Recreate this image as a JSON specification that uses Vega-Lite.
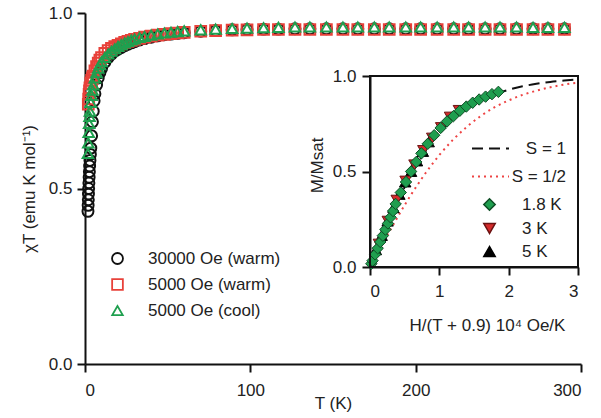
{
  "$schema": "https://vega.github.io/schema/vega-lite/v6.json",
  "width": 496,
  "height": 351,
  "autosize": {"type": "none"},
  "padding": {"left": 85, "top": 13, "right": 20, "bottom": 54},
  "background": "white",
  "config": {
    "view": {"stroke": null},
    "font": "Liberation Sans",
    "axis": {"grid": false, "domainColor": "#111111", "domainWidth": 2, "tickColor": "#111111", "tickWidth": 2, "tickSize": 8, "labelFontSize": 17, "labelColor": "#222222", "titleFontSize": 17, "titleFontWeight": "normal", "titleColor": "#222222", "labelFont": "Liberation Sans", "titleFont": "Liberation Sans"},
    "legend": {"labelFontSize": 17, "labelColor": "#222222", "labelFont": "Liberation Sans", "padding": 0}
  },
  "datasets": {
    "main": [
      {"series": "30000 Oe (warm)", "T": 1.8, "chiT": 0.435},
      {"series": "30000 Oe (warm)", "T": 1.9, "chiT": 0.452},
      {"series": "30000 Oe (warm)", "T": 2.0, "chiT": 0.468},
      {"series": "30000 Oe (warm)", "T": 2.1, "chiT": 0.484},
      {"series": "30000 Oe (warm)", "T": 2.2, "chiT": 0.5},
      {"series": "30000 Oe (warm)", "T": 2.35, "chiT": 0.516},
      {"series": "30000 Oe (warm)", "T": 2.5, "chiT": 0.532},
      {"series": "30000 Oe (warm)", "T": 2.65, "chiT": 0.548},
      {"series": "30000 Oe (warm)", "T": 2.8, "chiT": 0.564},
      {"series": "30000 Oe (warm)", "T": 3.0, "chiT": 0.58},
      {"series": "30000 Oe (warm)", "T": 3.25, "chiT": 0.597},
      {"series": "30000 Oe (warm)", "T": 3.5, "chiT": 0.615},
      {"series": "30000 Oe (warm)", "T": 4, "chiT": 0.65},
      {"series": "30000 Oe (warm)", "T": 4.5, "chiT": 0.69},
      {"series": "30000 Oe (warm)", "T": 5, "chiT": 0.72},
      {"series": "30000 Oe (warm)", "T": 5.5, "chiT": 0.75},
      {"series": "30000 Oe (warm)", "T": 6, "chiT": 0.77},
      {"series": "30000 Oe (warm)", "T": 7, "chiT": 0.795},
      {"series": "30000 Oe (warm)", "T": 8, "chiT": 0.815},
      {"series": "30000 Oe (warm)", "T": 9, "chiT": 0.83},
      {"series": "30000 Oe (warm)", "T": 10, "chiT": 0.842},
      {"series": "30000 Oe (warm)", "T": 12, "chiT": 0.86},
      {"series": "30000 Oe (warm)", "T": 14, "chiT": 0.873},
      {"series": "30000 Oe (warm)", "T": 16, "chiT": 0.883},
      {"series": "30000 Oe (warm)", "T": 18, "chiT": 0.891},
      {"series": "30000 Oe (warm)", "T": 20, "chiT": 0.897},
      {"series": "30000 Oe (warm)", "T": 22, "chiT": 0.902},
      {"series": "30000 Oe (warm)", "T": 24, "chiT": 0.907},
      {"series": "30000 Oe (warm)", "T": 26, "chiT": 0.911},
      {"series": "30000 Oe (warm)", "T": 28, "chiT": 0.915},
      {"series": "30000 Oe (warm)", "T": 30, "chiT": 0.918},
      {"series": "30000 Oe (warm)", "T": 33, "chiT": 0.923},
      {"series": "30000 Oe (warm)", "T": 36, "chiT": 0.927},
      {"series": "30000 Oe (warm)", "T": 40, "chiT": 0.931},
      {"series": "30000 Oe (warm)", "T": 44, "chiT": 0.935},
      {"series": "30000 Oe (warm)", "T": 48, "chiT": 0.938},
      {"series": "30000 Oe (warm)", "T": 52, "chiT": 0.94},
      {"series": "30000 Oe (warm)", "T": 56, "chiT": 0.942},
      {"series": "30000 Oe (warm)", "T": 60, "chiT": 0.944},
      {"series": "30000 Oe (warm)", "T": 70, "chiT": 0.948},
      {"series": "30000 Oe (warm)", "T": 79, "chiT": 0.95},
      {"series": "30000 Oe (warm)", "T": 89, "chiT": 0.952},
      {"series": "30000 Oe (warm)", "T": 98, "chiT": 0.953},
      {"series": "30000 Oe (warm)", "T": 108, "chiT": 0.954},
      {"series": "30000 Oe (warm)", "T": 117, "chiT": 0.954},
      {"series": "30000 Oe (warm)", "T": 127, "chiT": 0.955},
      {"series": "30000 Oe (warm)", "T": 136, "chiT": 0.955},
      {"series": "30000 Oe (warm)", "T": 146, "chiT": 0.955},
      {"series": "30000 Oe (warm)", "T": 156, "chiT": 0.955},
      {"series": "30000 Oe (warm)", "T": 165, "chiT": 0.955},
      {"series": "30000 Oe (warm)", "T": 175, "chiT": 0.955},
      {"series": "30000 Oe (warm)", "T": 184, "chiT": 0.955},
      {"series": "30000 Oe (warm)", "T": 194, "chiT": 0.955},
      {"series": "30000 Oe (warm)", "T": 203, "chiT": 0.955},
      {"series": "30000 Oe (warm)", "T": 213, "chiT": 0.955},
      {"series": "30000 Oe (warm)", "T": 223, "chiT": 0.955},
      {"series": "30000 Oe (warm)", "T": 232, "chiT": 0.955},
      {"series": "30000 Oe (warm)", "T": 242, "chiT": 0.955},
      {"series": "30000 Oe (warm)", "T": 251, "chiT": 0.955},
      {"series": "30000 Oe (warm)", "T": 261, "chiT": 0.955},
      {"series": "30000 Oe (warm)", "T": 271, "chiT": 0.955},
      {"series": "30000 Oe (warm)", "T": 280, "chiT": 0.955},
      {"series": "30000 Oe (warm)", "T": 290, "chiT": 0.955},
      {"series": "5000 Oe (warm)", "T": 2, "chiT": 0.74},
      {"series": "5000 Oe (warm)", "T": 2.25, "chiT": 0.755},
      {"series": "5000 Oe (warm)", "T": 2.5, "chiT": 0.768},
      {"series": "5000 Oe (warm)", "T": 2.75, "chiT": 0.778},
      {"series": "5000 Oe (warm)", "T": 3, "chiT": 0.787},
      {"series": "5000 Oe (warm)", "T": 3.5, "chiT": 0.8},
      {"series": "5000 Oe (warm)", "T": 4, "chiT": 0.808},
      {"series": "5000 Oe (warm)", "T": 4.5, "chiT": 0.815},
      {"series": "5000 Oe (warm)", "T": 5, "chiT": 0.82},
      {"series": "5000 Oe (warm)", "T": 6, "chiT": 0.835},
      {"series": "5000 Oe (warm)", "T": 7, "chiT": 0.847},
      {"series": "5000 Oe (warm)", "T": 8, "chiT": 0.857},
      {"series": "5000 Oe (warm)", "T": 9, "chiT": 0.866},
      {"series": "5000 Oe (warm)", "T": 10, "chiT": 0.873},
      {"series": "5000 Oe (warm)", "T": 12, "chiT": 0.885},
      {"series": "5000 Oe (warm)", "T": 14, "chiT": 0.893},
      {"series": "5000 Oe (warm)", "T": 16, "chiT": 0.899},
      {"series": "5000 Oe (warm)", "T": 18, "chiT": 0.904},
      {"series": "5000 Oe (warm)", "T": 20, "chiT": 0.908},
      {"series": "5000 Oe (warm)", "T": 22, "chiT": 0.912},
      {"series": "5000 Oe (warm)", "T": 24, "chiT": 0.916},
      {"series": "5000 Oe (warm)", "T": 26, "chiT": 0.919},
      {"series": "5000 Oe (warm)", "T": 28, "chiT": 0.922},
      {"series": "5000 Oe (warm)", "T": 30, "chiT": 0.925},
      {"series": "5000 Oe (warm)", "T": 33, "chiT": 0.928},
      {"series": "5000 Oe (warm)", "T": 36, "chiT": 0.931},
      {"series": "5000 Oe (warm)", "T": 40, "chiT": 0.934},
      {"series": "5000 Oe (warm)", "T": 44, "chiT": 0.937},
      {"series": "5000 Oe (warm)", "T": 48, "chiT": 0.939},
      {"series": "5000 Oe (warm)", "T": 52, "chiT": 0.941},
      {"series": "5000 Oe (warm)", "T": 56, "chiT": 0.943},
      {"series": "5000 Oe (warm)", "T": 60, "chiT": 0.945},
      {"series": "5000 Oe (warm)", "T": 70, "chiT": 0.948},
      {"series": "5000 Oe (warm)", "T": 79, "chiT": 0.95},
      {"series": "5000 Oe (warm)", "T": 89, "chiT": 0.951},
      {"series": "5000 Oe (warm)", "T": 98, "chiT": 0.952},
      {"series": "5000 Oe (warm)", "T": 108, "chiT": 0.953},
      {"series": "5000 Oe (warm)", "T": 117, "chiT": 0.953},
      {"series": "5000 Oe (warm)", "T": 127, "chiT": 0.953},
      {"series": "5000 Oe (warm)", "T": 136, "chiT": 0.953},
      {"series": "5000 Oe (warm)", "T": 146, "chiT": 0.953},
      {"series": "5000 Oe (warm)", "T": 156, "chiT": 0.953},
      {"series": "5000 Oe (warm)", "T": 165, "chiT": 0.953},
      {"series": "5000 Oe (warm)", "T": 175, "chiT": 0.953},
      {"series": "5000 Oe (warm)", "T": 184, "chiT": 0.953},
      {"series": "5000 Oe (warm)", "T": 194, "chiT": 0.953},
      {"series": "5000 Oe (warm)", "T": 203, "chiT": 0.953},
      {"series": "5000 Oe (warm)", "T": 213, "chiT": 0.953},
      {"series": "5000 Oe (warm)", "T": 223, "chiT": 0.953},
      {"series": "5000 Oe (warm)", "T": 232, "chiT": 0.953},
      {"series": "5000 Oe (warm)", "T": 242, "chiT": 0.953},
      {"series": "5000 Oe (warm)", "T": 251, "chiT": 0.953},
      {"series": "5000 Oe (warm)", "T": 261, "chiT": 0.953},
      {"series": "5000 Oe (warm)", "T": 271, "chiT": 0.953},
      {"series": "5000 Oe (warm)", "T": 280, "chiT": 0.953},
      {"series": "5000 Oe (warm)", "T": 290, "chiT": 0.953},
      {"series": "5000 Oe (cool)", "T": 1.8, "chiT": 0.6},
      {"series": "5000 Oe (cool)", "T": 2, "chiT": 0.63},
      {"series": "5000 Oe (cool)", "T": 2.25, "chiT": 0.66},
      {"series": "5000 Oe (cool)", "T": 2.5, "chiT": 0.685},
      {"series": "5000 Oe (cool)", "T": 2.75, "chiT": 0.705},
      {"series": "5000 Oe (cool)", "T": 3, "chiT": 0.72},
      {"series": "5000 Oe (cool)", "T": 3.5, "chiT": 0.745},
      {"series": "5000 Oe (cool)", "T": 4, "chiT": 0.765},
      {"series": "5000 Oe (cool)", "T": 4.5, "chiT": 0.78},
      {"series": "5000 Oe (cool)", "T": 5, "chiT": 0.795},
      {"series": "5000 Oe (cool)", "T": 6, "chiT": 0.815},
      {"series": "5000 Oe (cool)", "T": 7, "chiT": 0.83},
      {"series": "5000 Oe (cool)", "T": 8, "chiT": 0.843},
      {"series": "5000 Oe (cool)", "T": 9, "chiT": 0.853},
      {"series": "5000 Oe (cool)", "T": 10, "chiT": 0.861},
      {"series": "5000 Oe (cool)", "T": 12, "chiT": 0.873},
      {"series": "5000 Oe (cool)", "T": 14, "chiT": 0.883},
      {"series": "5000 Oe (cool)", "T": 16, "chiT": 0.891},
      {"series": "5000 Oe (cool)", "T": 18, "chiT": 0.898},
      {"series": "5000 Oe (cool)", "T": 20, "chiT": 0.905},
      {"series": "5000 Oe (cool)", "T": 22, "chiT": 0.91},
      {"series": "5000 Oe (cool)", "T": 24, "chiT": 0.915},
      {"series": "5000 Oe (cool)", "T": 26, "chiT": 0.919},
      {"series": "5000 Oe (cool)", "T": 28, "chiT": 0.923},
      {"series": "5000 Oe (cool)", "T": 30, "chiT": 0.926},
      {"series": "5000 Oe (cool)", "T": 33, "chiT": 0.93},
      {"series": "5000 Oe (cool)", "T": 36, "chiT": 0.933},
      {"series": "5000 Oe (cool)", "T": 40, "chiT": 0.937},
      {"series": "5000 Oe (cool)", "T": 44, "chiT": 0.94},
      {"series": "5000 Oe (cool)", "T": 48, "chiT": 0.943},
      {"series": "5000 Oe (cool)", "T": 52, "chiT": 0.945},
      {"series": "5000 Oe (cool)", "T": 56, "chiT": 0.947},
      {"series": "5000 Oe (cool)", "T": 60, "chiT": 0.949},
      {"series": "5000 Oe (cool)", "T": 70, "chiT": 0.952},
      {"series": "5000 Oe (cool)", "T": 79, "chiT": 0.954},
      {"series": "5000 Oe (cool)", "T": 89, "chiT": 0.956},
      {"series": "5000 Oe (cool)", "T": 98, "chiT": 0.957},
      {"series": "5000 Oe (cool)", "T": 108, "chiT": 0.958},
      {"series": "5000 Oe (cool)", "T": 117, "chiT": 0.959},
      {"series": "5000 Oe (cool)", "T": 127, "chiT": 0.96},
      {"series": "5000 Oe (cool)", "T": 136, "chiT": 0.96},
      {"series": "5000 Oe (cool)", "T": 146, "chiT": 0.96},
      {"series": "5000 Oe (cool)", "T": 156, "chiT": 0.96},
      {"series": "5000 Oe (cool)", "T": 165, "chiT": 0.96},
      {"series": "5000 Oe (cool)", "T": 175, "chiT": 0.96},
      {"series": "5000 Oe (cool)", "T": 184, "chiT": 0.96},
      {"series": "5000 Oe (cool)", "T": 194, "chiT": 0.96},
      {"series": "5000 Oe (cool)", "T": 203, "chiT": 0.96},
      {"series": "5000 Oe (cool)", "T": 213, "chiT": 0.96},
      {"series": "5000 Oe (cool)", "T": 223, "chiT": 0.96},
      {"series": "5000 Oe (cool)", "T": 232, "chiT": 0.96},
      {"series": "5000 Oe (cool)", "T": 242, "chiT": 0.96},
      {"series": "5000 Oe (cool)", "T": 251, "chiT": 0.96},
      {"series": "5000 Oe (cool)", "T": 261, "chiT": 0.96},
      {"series": "5000 Oe (cool)", "T": 271, "chiT": 0.959},
      {"series": "5000 Oe (cool)", "T": 280, "chiT": 0.959},
      {"series": "5000 Oe (cool)", "T": 290, "chiT": 0.959}
    ],
    "curves": [
      {"model": "S = 1", "h": 0, "m": 0},
      {"model": "S = 1", "h": 0.1, "m": 0.089},
      {"model": "S = 1", "h": 0.2, "m": 0.177},
      {"model": "S = 1", "h": 0.3, "m": 0.261},
      {"model": "S = 1", "h": 0.4, "m": 0.343},
      {"model": "S = 1", "h": 0.5, "m": 0.418},
      {"model": "S = 1", "h": 0.6, "m": 0.486},
      {"model": "S = 1", "h": 0.7, "m": 0.55},
      {"model": "S = 1", "h": 0.8, "m": 0.606},
      {"model": "S = 1", "h": 0.9, "m": 0.656},
      {"model": "S = 1", "h": 1.0, "m": 0.701},
      {"model": "S = 1", "h": 1.2, "m": 0.774},
      {"model": "S = 1", "h": 1.4, "m": 0.831},
      {"model": "S = 1", "h": 1.6, "m": 0.873},
      {"model": "S = 1", "h": 1.8, "m": 0.905},
      {"model": "S = 1", "h": 2.0, "m": 0.928},
      {"model": "S = 1", "h": 2.2, "m": 0.946},
      {"model": "S = 1", "h": 2.4, "m": 0.959},
      {"model": "S = 1", "h": 2.6, "m": 0.969},
      {"model": "S = 1", "h": 2.8, "m": 0.976},
      {"model": "S = 1", "h": 3.0, "m": 0.982},
      {"model": "S = 1/2", "h": 0, "m": 0},
      {"model": "S = 1/2", "h": 0.1, "m": 0.067},
      {"model": "S = 1/2", "h": 0.2, "m": 0.134},
      {"model": "S = 1/2", "h": 0.3, "m": 0.199},
      {"model": "S = 1/2", "h": 0.4, "m": 0.262},
      {"model": "S = 1/2", "h": 0.5, "m": 0.324},
      {"model": "S = 1/2", "h": 0.6, "m": 0.383},
      {"model": "S = 1/2", "h": 0.7, "m": 0.438},
      {"model": "S = 1/2", "h": 0.8, "m": 0.491},
      {"model": "S = 1/2", "h": 0.9, "m": 0.54},
      {"model": "S = 1/2", "h": 1.0, "m": 0.586},
      {"model": "S = 1/2", "h": 1.2, "m": 0.667},
      {"model": "S = 1/2", "h": 1.4, "m": 0.735},
      {"model": "S = 1/2", "h": 1.6, "m": 0.791},
      {"model": "S = 1/2", "h": 1.8, "m": 0.837},
      {"model": "S = 1/2", "h": 2.0, "m": 0.872},
      {"model": "S = 1/2", "h": 2.2, "m": 0.901},
      {"model": "S = 1/2", "h": 2.4, "m": 0.923},
      {"model": "S = 1/2", "h": 2.6, "m": 0.941},
      {"model": "S = 1/2", "h": 2.8, "m": 0.955},
      {"model": "S = 1/2", "h": 3.0, "m": 0.965}
    ],
    "inset": [
      {"temp": "5 K", "h": 0.085, "m": 0.09},
      {"temp": "5 K", "h": 0.169, "m": 0.165},
      {"temp": "5 K", "h": 0.254, "m": 0.24},
      {"temp": "5 K", "h": 0.339, "m": 0.31},
      {"temp": "5 K", "h": 0.424, "m": 0.38},
      {"temp": "5 K", "h": 0.508, "m": 0.445},
      {"temp": "5 K", "h": 0.593, "m": 0.5},
      {"temp": "5 K", "h": 0.678, "m": 0.555},
      {"temp": "5 K", "h": 0.763, "m": 0.605},
      {"temp": "5 K", "h": 0.847, "m": 0.655},
      {"temp": "3 K", "h": 0.128, "m": 0.12},
      {"temp": "3 K", "h": 0.256, "m": 0.24},
      {"temp": "3 K", "h": 0.385, "m": 0.35},
      {"temp": "3 K", "h": 0.513, "m": 0.45},
      {"temp": "3 K", "h": 0.641, "m": 0.535},
      {"temp": "3 K", "h": 0.769, "m": 0.61},
      {"temp": "3 K", "h": 0.897, "m": 0.675},
      {"temp": "3 K", "h": 1.026, "m": 0.73},
      {"temp": "3 K", "h": 1.154, "m": 0.785},
      {"temp": "3 K", "h": 1.282, "m": 0.82},
      {"temp": "1.8 K", "h": 0.019, "m": 0.017},
      {"temp": "1.8 K", "h": 0.037, "m": 0.033},
      {"temp": "1.8 K", "h": 0.074, "m": 0.066},
      {"temp": "1.8 K", "h": 0.111, "m": 0.098},
      {"temp": "1.8 K", "h": 0.148, "m": 0.131},
      {"temp": "1.8 K", "h": 0.185, "m": 0.164},
      {"temp": "1.8 K", "h": 0.222, "m": 0.196},
      {"temp": "1.8 K", "h": 0.259, "m": 0.228},
      {"temp": "1.8 K", "h": 0.296, "m": 0.26},
      {"temp": "1.8 K", "h": 0.333, "m": 0.293},
      {"temp": "1.8 K", "h": 0.37, "m": 0.33},
      {"temp": "1.8 K", "h": 0.444, "m": 0.39},
      {"temp": "1.8 K", "h": 0.519, "m": 0.445},
      {"temp": "1.8 K", "h": 0.593, "m": 0.5},
      {"temp": "1.8 K", "h": 0.667, "m": 0.55},
      {"temp": "1.8 K", "h": 0.741, "m": 0.595},
      {"temp": "1.8 K", "h": 0.833, "m": 0.645},
      {"temp": "1.8 K", "h": 0.926, "m": 0.69},
      {"temp": "1.8 K", "h": 1.019, "m": 0.728},
      {"temp": "1.8 K", "h": 1.111, "m": 0.762},
      {"temp": "1.8 K", "h": 1.204, "m": 0.79},
      {"temp": "1.8 K", "h": 1.296, "m": 0.818},
      {"temp": "1.8 K", "h": 1.389, "m": 0.84},
      {"temp": "1.8 K", "h": 1.481, "m": 0.86},
      {"temp": "1.8 K", "h": 1.574, "m": 0.877},
      {"temp": "1.8 K", "h": 1.667, "m": 0.892},
      {"temp": "1.8 K", "h": 1.759, "m": 0.905},
      {"temp": "1.8 K", "h": 1.852, "m": 0.917}
    ]
  },
  "layer": [
    {
      "data": {"name": "main"},
      "mark": {"type": "point", "filled": false, "strokeWidth": 2, "opacity": 1},
      "encoding": {
        "x": {"field": "T", "type": "quantitative", "scale": {"domain": [0, 300], "nice": false, "zero": false},
              "axis": {"values": [0, 100, 200, 300], "title": "T (K)", "labelPadding": 10, "titleY": 31, "titleBaseline": "top"}},
        "y": {"field": "chiT", "type": "quantitative", "scale": {"domain": [0, 1], "nice": false},
              "axis": {"values": [0, 0.5, 1], "format": ".1f", "title": "χT (emu K mol⁻¹)", "labelPadding": 5, "titleX": -47}},
        "color": {"field": "series", "type": "nominal",
                  "scale": {"domain": ["30000 Oe (warm)", "5000 Oe (warm)", "5000 Oe (cool)"], "range": ["#111111", "#e8413a", "#1fa04f"]},
                  "legend": {"orient": "none", "legendX": 24, "legendY": 237, "title": null, "symbolStrokeWidth": 1.8, "labelOffset": 22, "rowPadding": 7}},
        "shape": {"field": "series", "type": "nominal",
                  "scale": {"domain": ["30000 Oe (warm)", "5000 Oe (warm)", "5000 Oe (cool)"], "range": ["circle", "square", "triangle-up"]},
                  "legend": {"orient": "none", "legendX": 24, "legendY": 237, "title": null, "symbolStrokeWidth": 1.8, "labelOffset": 22, "rowPadding": 7}},
        "size": {"field": "series", "type": "nominal",
                  "scale": {"domain": ["30000 Oe (warm)", "5000 Oe (warm)", "5000 Oe (cool)"], "range": [120, 110, 190]},
                  "legend": {"orient": "none", "legendX": 24, "legendY": 237, "title": null, "symbolStrokeWidth": 1.8, "labelOffset": 22, "rowPadding": 7}}
      }
    },
    {
      "layer": [
        {
          "data": {"name": "curves"},
          "mark": {"type": "line", "strokeWidth": 2, "interpolate": "monotone"},
          "encoding": {
            "x": {"field": "h", "type": "quantitative", "scale": {"domain": [0, 3], "range": [285, 493], "nice": false, "zero": false}},
            "y": {"field": "m", "type": "quantitative", "scale": {"domain": [0, 1], "range": [254, 63], "nice": false}},
            "color": {"field": "model", "type": "nominal",
                      "scale": {"domain": ["S = 1", "S = 1/2"], "range": ["#111111", "#ee4444"]},
                      "legend": {"orient": "none", "legendX": 386, "legendY": 116, "title": null, "symbolSize": 1369, "symbolStrokeWidth": 2, "symbolType": "stroke", "labelAlign": "right", "labelOffset": 56, "rowPadding": -24}},
            "strokeDash": {"field": "model", "type": "nominal",
                      "scale": {"domain": ["S = 1", "S = 1/2"], "range": [[11, 6], [2, 4]]},
                      "legend": {"orient": "none", "legendX": 386, "legendY": 116, "title": null, "symbolSize": 1369, "symbolStrokeWidth": 2, "symbolType": "stroke", "labelAlign": "right", "labelOffset": 56, "rowPadding": -24}}
          }
        },
        {
          "data": {"name": "inset"},
          "mark": {"type": "point", "filled": true, "size": 130, "strokeWidth": 1, "opacity": 1},
          "encoding": {
            "x": {"field": "h", "type": "quantitative", "scale": {"domain": [0, 3], "range": [285, 493], "nice": false, "zero": false},
                  "axis": {"orient": "bottom", "offset": -97, "values": [0, 1, 2, 3], "format": "d", "title": "H/(T + 0.9)  10⁴ Oe/K", "titleX": 402, "titleY": 50, "titleBaseline": "top", "labelPadding": 8}},
            "y": {"field": "m", "type": "quantitative", "scale": {"domain": [0, 1], "range": [254, 63], "nice": false},
                  "axis": {"orient": "left", "offset": -285, "values": [0, 0.5, 1], "format": ".1f", "title": "M/Msat", "titleX": -44, "titleY": 152, "labelPadding": 6}},
            "shape": {"field": "temp", "type": "nominal",
                      "scale": {"domain": ["1.8 K", "3 K", "5 K"], "range": ["diamond", "triangle-down", "triangle-up"]},
                      "legend": {"orient": "none", "legendX": 396, "legendY": 183, "title": null, "symbolSize": 130, "labelOffset": 24, "rowPadding": 5}},
            "fill": {"field": "temp", "type": "nominal",
                     "scale": {"domain": ["1.8 K", "3 K", "5 K"], "range": ["#1f9e4f", "#d42a2a", "#000000"]},
                     "legend": {"orient": "none", "legendX": 396, "legendY": 183, "title": null, "symbolSize": 130, "labelOffset": 24, "rowPadding": 5}},
            "stroke": {"field": "temp", "type": "nominal",
                       "scale": {"domain": ["1.8 K", "3 K", "5 K"], "range": ["#0e4d25", "#6a1212", "#000000"]},
                       "legend": {"orient": "none", "legendX": 396, "legendY": 183, "title": null, "symbolSize": 130, "labelOffset": 24, "rowPadding": 5}}
          }
        },
        {
          "data": {"values": [{}]},
          "mark": {"type": "rect", "filled": false, "stroke": "#111111", "strokeWidth": 2},
          "encoding": {
            "x": {"datum": 0, "type": "quantitative", "scale": {"domain": [0, 3], "range": [285, 493], "nice": false, "zero": false}},
            "x2": {"datum": 3},
            "y": {"datum": 0, "type": "quantitative", "scale": {"domain": [0, 1], "range": [254, 63], "nice": false}},
            "y2": {"datum": 1}
          }
        }
      ]
    }
  ],
  "resolve": {"scale": {"x": "independent", "y": "independent", "color": "independent", "shape": "independent", "size": "independent", "fill": "independent", "stroke": "independent", "strokeDash": "independent"}}
}
